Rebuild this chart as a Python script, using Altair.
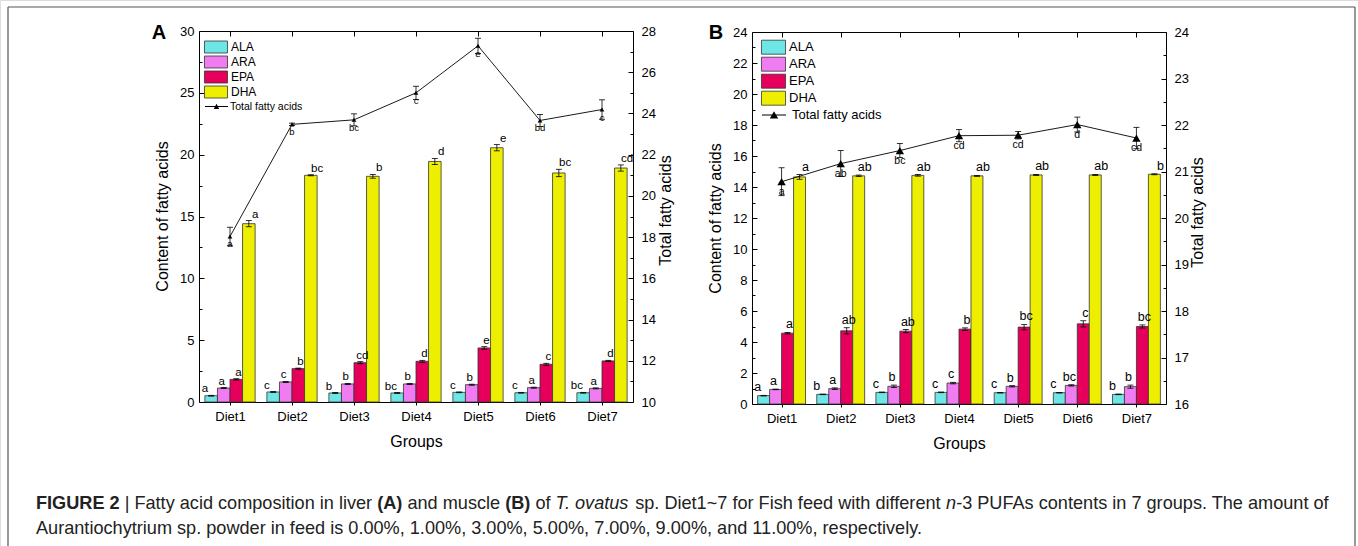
import altair as alt
import pandas as pd

FONT = "Liberation Sans"
W, H = 1358, 546

groups = ["Diet1", "Diet2", "Diet3", "Diet4", "Diet5", "Diet6", "Diet7"]
acids = ["ALA", "ARA", "EPA", "DHA"]
acid_colors = ["#6FE6E6", "#F07CF2", "#E6005C", "#EEEE00"]
series_name = ["Total fatty acids"]

# ---------------- Panel A (liver) ----------------
a_ala = [0.51, 0.81, 0.73, 0.73, 0.78, 0.75, 0.75]
a_ara = [1.13, 1.62, 1.46, 1.46, 1.40, 1.16, 1.10]
a_epa = [1.83, 2.70, 3.18, 3.29, 4.37, 3.05, 3.32]
a_dha = [14.42, 18.33, 18.25, 19.45, 20.56, 18.52, 18.92]
a_ala_err = [0.03, 0.03, 0.03, 0.03, 0.03, 0.03, 0.03]
a_ara_err = [0.04, 0.04, 0.04, 0.04, 0.04, 0.04, 0.04]
a_epa_err = [0.05, 0.04, 0.08, 0.08, 0.10, 0.08, 0.05]
a_dha_err = [0.25, 0.04, 0.15, 0.25, 0.25, 0.30, 0.25]
a_ala_sig = ["a", "c", "b", "bc", "c", "c", "bc"]
a_ara_sig = ["a", "c", "b", "b", "b", "a", "a"]
a_epa_sig = ["a", "b", "cd", "d", "e", "c", "d"]
a_dha_sig = ["a", "bc", "b", "d", "e", "bc", "cd"]
a_tot = [18.03, 23.47, 23.69, 25.00, 27.28, 23.66, 24.19]
a_tot_err = [0.45, 0.06, 0.29, 0.32, 0.37, 0.29, 0.47]
a_tot_sig = ["a", "b", "bc", "c", "e", "bd", "c"]
a_left_ticks = [0, 5, 10, 15, 20, 25, 30]
a_left_minor = [2.5, 7.5, 12.5, 17.5, 22.5, 27.5]
a_right_ticks = [10, 12, 14, 16, 18, 20, 22, 24, 26, 28]
a_right_minor = [11, 13, 15, 17, 19, 21, 23, 25, 27]

# ---------------- Panel B (muscle) ----------------
b_ala = [0.54, 0.62, 0.75, 0.75, 0.73, 0.73, 0.62]
b_ara = [0.94, 0.99, 1.14, 1.35, 1.14, 1.20, 1.12]
b_epa = [4.57, 4.72, 4.70, 4.83, 4.96, 5.17, 5.00]
b_dha = [14.65, 14.72, 14.75, 14.72, 14.78, 14.78, 14.82]
b_ala_err = [0.02, 0.02, 0.02, 0.02, 0.02, 0.02, 0.02]
b_ara_err = [0.02, 0.05, 0.08, 0.05, 0.04, 0.04, 0.10]
b_epa_err = [0.05, 0.20, 0.10, 0.08, 0.18, 0.20, 0.10]
b_dha_err = [0.15, 0.05, 0.05, 0.03, 0.03, 0.03, 0.03]
b_ala_sig = ["a", "b", "c", "c", "c", "c", "b"]
b_ara_sig = ["a", "a", "b", "c", "b", "bc", "b"]
b_epa_sig = ["a", "ab", "ab", "b", "bc", "c", "bc"]
b_dha_sig = ["a", "ab", "ab", "ab", "ab", "ab", "b"]
b_tot = [20.78, 21.17, 21.45, 21.77, 21.78, 22.01, 21.72]
b_tot_err = [0.30, 0.28, 0.15, 0.13, 0.08, 0.16, 0.23]
b_tot_sig = ["a", "ab", "bc", "cd", "cd", "d", "cd"]
b_left_ticks = [0, 2, 4, 6, 8, 10, 12, 14, 16, 18, 20, 22, 24]
b_left_minor = [1, 3, 5, 7, 9, 11, 13, 15, 17, 19, 21, 23]
b_right_ticks = [16, 17, 18, 19, 20, 21, 22, 23, 24]
b_right_minor = [16.5, 17.5, 18.5, 19.5, 20.5, 21.5, 22.5, 23.5]

caption_line1 = [
    ("FIGURE 2", "bold"),
    (" | ", "normal"),
    ("Fatty acid composition in liver ", "normal"),
    ("(A)", "bold"),
    (" and muscle ", "normal"),
    ("(B)", "bold"),
    (" of ", "normal"),
    ("T. ovatus", "italic"),
    (" sp. Diet1~7 for Fish feed with different ", "normal"),
    ("n", "italic"),
    ("-3 PUFAs contents in 7 groups. The amount of", "normal"),
]
caption_line2 = [
    ("Aurantiochytrium sp. powder in feed is 0.00%, 1.00%, 3.00%, 5.00%, 7.00%, 9.00%, and 11.00%, respectively.", "normal"),
]

# ---------- layout (pixels) ----------
PA = dict(xr=[199, 633], yr=[402, 31], yl=[0, 30], yR=[10, 28],
          vals=[a_ala, a_ara, a_epa, a_dha], errs=[a_ala_err, a_ara_err, a_epa_err, a_dha_err],
          sigs=[a_ala_sig, a_ara_sig, a_epa_sig, a_dha_sig],
          tot=a_tot, tot_err=a_tot_err, tot_sig=a_tot_sig,
          lt=a_left_ticks, lm=a_left_minor, rt=a_right_ticks, rm=a_right_minor,
          cap=6, sigfs=11.5, tfs=9.5, tdy=8, msize=22,
          ltitle=(162, 216), rtitle=(665, 210), btitle=(416, 441),
          lx=204, ly=40.5, box_path="M-1.92,-1H1.92V1H-1.92Z", box_size=144, box_so=5.5, box_lo=8.5,
          lfs=12, rowpad=-2.7, llx=204, lly=99.5,
          line_path="M-1.92,-0.07H1.92V0.07H-1.92Z M-0.45,0.42L0,-0.45L0.45,0.42Z", line_lo=6.5, lfs2=10.5)
PB = dict(xr=[752, 1166], yr=[404, 32], yl=[0, 24], yR=[16, 24],
          vals=[b_ala, b_ara, b_epa, b_dha], errs=[b_ala_err, b_ara_err, b_epa_err, b_dha_err],
          sigs=[b_ala_sig, b_ara_sig, b_epa_sig, b_dha_sig],
          tot=b_tot, tot_err=b_tot_err, tot_sig=b_tot_sig,
          lt=b_left_ticks, lm=b_left_minor, rt=b_right_ticks, rm=b_right_minor,
          cap=6, sigfs=12.5, tfs=10.5, tdy=10, msize=70,
          ltitle=(715, 218), rtitle=(1197, 212), btitle=(959, 443),
          lx=761, ly=39.7, box_path="M-1.72,-1H1.72V1H-1.72Z", box_size=196, box_so=5, box_lo=8,
          lfs=13, rowpad=-2.3, llx=761, lly=107,
          line_path="M-1.72,-0.06H1.72V0.06H-1.72Z M-0.6,0.5L0,-0.55L0.6,0.5Z", line_lo=10, lfs2=13)


def ax(**kw):
    base = dict(grid=False, labelFont=FONT, titleFont=FONT, labelColor="black", titleColor="black",
                domainColor="black", tickColor="black", domainWidth=1, tickWidth=1,
                titleFontWeight="normal")
    base.update(kw)
    return alt.Axis(**base)


def build_panel(P):
    xr, yr = P["xr"], P["yr"]
    rows = []
    for acid, vals, errs, sigs in zip(acids, P["vals"], P["errs"], P["sigs"]):
        for g, v, e, s in zip(groups, vals, errs, sigs):
            rows.append({"group": g, "acid": acid, "value": v, "lo": v - e, "hi": v + e, "sig": s})
    bdf = pd.DataFrame(rows)
    tdf = pd.DataFrame({"group": groups, "total": P["tot"],
                        "lo": [t - e for t, e in zip(P["tot"], P["tot_err"])],
                        "hi": [t + e for t, e in zip(P["tot"], P["tot_err"])],
                        "sig": P["tot_sig"], "series": series_name * len(groups)})

    def xband():
        return alt.X("group:N", sort=groups, axis=None,
                     scale=alt.Scale(domain=groups, range=xr, paddingInner=0.19, paddingOuter=0.095))

    def xoff():
        return alt.XOffset("acid:N", sort=acids,
                           scale=alt.Scale(domain=acids, paddingInner=0, paddingOuter=0))

    def yl(f):
        return alt.Y(f"{f}:Q", axis=None, scale=alt.Scale(domain=P["yl"], range=yr, nice=False, zero=True))

    def yR(f):
        return alt.Y(f"{f}:Q", axis=None, scale=alt.Scale(domain=P["yR"], range=yr, nice=False, zero=False))

    layers = []
    bars = alt.Chart(bdf).mark_bar(stroke="#333333", strokeWidth=0.8).encode(
        x=xband(), xOffset=xoff(), y=yl("value"),
        fill=alt.Fill("acid:N", sort=acids, scale=alt.Scale(domain=acids, range=acid_colors),
                      legend=alt.Legend(orient="none", legendX=P["lx"], legendY=P["ly"], title=None,
                                        symbolType=P["box_path"], symbolSize=P["box_size"],
                                        symbolStrokeColor="#333333", symbolStrokeWidth=0.8,
                                        symbolOffset=P["box_so"], labelOffset=P["box_lo"],
                                        labelFontSize=P["lfs"], labelFont=FONT, labelColor="black",
                                        rowPadding=P["rowpad"], padding=0)))
    layers.append(bars)
    layers.append(alt.Chart(bdf).mark_rule(color="black", strokeWidth=0.8).encode(
        x=xband(), xOffset=xoff(), y=yl("lo"), y2="hi:Q"))
    for f in ["lo", "hi"]:
        layers.append(alt.Chart(bdf).mark_tick(color="black", thickness=0.8, size=P["cap"], opacity=1).encode(
            x=xband(), xOffset=xoff(), y=yl(f)))
    layers.append(alt.Chart(bdf).mark_text(baseline="bottom", dy=-1, fontSize=P["sigfs"], font=FONT,
                                           color="black").encode(
        x=xband(), xOffset=xoff(), y=yl("hi"), text="sig:N"))

    # total fatty acids line
    layers.append(alt.Chart(tdf).mark_line(color="black", strokeWidth=0.9).encode(x=xband(), y=yR("total")))
    layers.append(alt.Chart(tdf).mark_rule(color="black", strokeWidth=0.8).encode(
        x=xband(), y=yR("lo"), y2="hi:Q"))
    for f in ["lo", "hi"]:
        layers.append(alt.Chart(tdf).mark_tick(color="black", thickness=0.8, size=P["cap"], opacity=1).encode(
            x=xband(), y=yR(f)))
    layers.append(alt.Chart(tdf).mark_point(shape="triangle-up", filled=True, opacity=1,
                                            size=P["msize"]).encode(
        x=xband(), y=yR("total"),
        color=alt.Color("series:N", scale=alt.Scale(domain=series_name, range=["black"]),
                        legend=alt.Legend(orient="none", legendX=P["llx"], legendY=P["lly"], title=None,
                                          symbolType=P["line_path"], symbolSize=P["box_size"],
                                          symbolOffset=P["box_so"], labelOffset=P["line_lo"],
                                          labelFontSize=P["lfs2"], labelFont=FONT, labelColor="black",
                                          padding=0))))
    layers.append(alt.Chart(tdf).mark_text(baseline="middle", dy=P["tdy"], fontSize=P["tfs"], font=FONT,
                                           color="black").encode(
        x=xband(), y=yR("total"), text="sig:N"))

    # ---- axes (invisible carriers) ----
    x0, x1 = xr
    y0, y1 = yr  # bottom, top

    def carrier(xaxis, yaxis, ydom):
        mid = (ydom[0] + ydom[1]) / 2
        return alt.Chart(tdf).transform_calculate(ax=str(mid)).mark_point(opacity=0).encode(
            x=alt.X("group:N", sort=groups, axis=xaxis,
                    scale=alt.Scale(domain=groups, range=xr, paddingInner=0, paddingOuter=0)),
            y=alt.Y("ax:Q", axis=yaxis, scale=alt.Scale(domain=ydom, range=yr, nice=False, zero=False)))

    fs_lab = 13
    layers.append(carrier(
        ax(orient="bottom", offset=y0 - H, ticks=False, domain=True, labelFontSize=fs_lab, labelPadding=8,
           labelAngle=0, title="Groups", titleFontSize=16, titleX=P["btitle"][0], titleY=P["btitle"][1] - y0,
           titleBaseline="middle", titleAlign="center"),
        ax(orient="left", offset=-x0, values=P["lt"], ticks=False, domain=True, labelFontSize=fs_lab,
           labelPadding=5, title="Content of fatty acids", titleFontSize=16, titleAngle=270,
           titleX=P["ltitle"][0] - x0, titleY=P["ltitle"][1], titleBaseline="middle", titleAlign="center"),
        P["yl"]))
    layers.append(carrier(
        ax(orient="bottom", offset=y1 - H, labels=False, ticks=True, tickSize=5, domain=True,
           bandPosition=0.5, title=None),
        ax(orient="right", offset=x0 - W, values=P["lt"], labels=False, ticks=True, tickSize=5,
           domain=False, title=None),
        P["yl"]))
    layers.append(carrier(
        ax(orient="bottom", offset=y1 - H, labels=False, ticks=True, tickSize=3, domain=False,
           bandPosition=0, title=None),
        ax(orient="right", offset=x0 - W, values=P["lm"], labels=False, ticks=True, tickSize=3,
           domain=False, title=None),
        P["yl"]))
    layers.append(carrier(
        ax(orient="bottom", offset=y0 - H, labels=False, ticks=True, tickSize=3, domain=False,
           bandPosition=0, title=None),
        ax(orient="right", offset=x1 - W, values=P["rt"], ticks=False, domain=True, labelFontSize=fs_lab,
           labelPadding=8, title="Total fatty acids", titleFontSize=16, titleAngle=270,
           titleX=P["rtitle"][0] - x1, titleY=P["rtitle"][1], titleBaseline="middle", titleAlign="center"),
        P["yR"]))
    layers.append(carrier(
        None,
        ax(orient="left", offset=-x1, values=P["rt"], labels=False, ticks=True, tickSize=5,
           domain=False, title=None),
        P["yR"]))
    layers.append(carrier(
        None,
        ax(orient="left", offset=-x1, values=P["rm"], labels=False, ticks=True, tickSize=3,
           domain=False, title=None),
        P["yR"]))
    return layers


# ---------- caption helpers (text metrics of Arial/Liberation Sans) ----------
REG = {' ': 278, '%': 889, '(': 333, ')': 333, ',': 278, '-': 333, '.': 278, '|': 260, '~': 584,
       'A': 667, 'B': 667, 'C': 722, 'D': 722, 'E': 667, 'F': 611, 'G': 778, 'H': 722, 'I': 278,
       'J': 500, 'K': 667, 'L': 556, 'M': 833, 'N': 722, 'O': 778, 'P': 667, 'Q': 778, 'R': 722,
       'S': 667, 'T': 611, 'U': 722, 'V': 667, 'W': 944, 'X': 667, 'Y': 667, 'Z': 611,
       'a': 556, 'b': 556, 'c': 500, 'd': 556, 'e': 556, 'f': 278, 'g': 556, 'h': 556, 'i': 222,
       'j': 222, 'k': 500, 'l': 222, 'm': 833, 'n': 556, 'o': 556, 'p': 556, 'q': 556, 'r': 333,
       's': 500, 't': 278, 'u': 556, 'v': 500, 'w': 722, 'x': 500, 'y': 500, 'z': 500}
BOLD = {' ': 278, '(': 333, ')': 333, 'A': 722, 'B': 722, 'E': 667, 'F': 611, 'G': 778, 'I': 278,
        'R': 722, 'U': 722, '|': 280}


def text_em(s, style):
    table = BOLD if style == "bold" else REG
    return sum(table.get(c, REG.get(c, 556)) for c in s) / 1000.0


CAP_X0, CAP_X1 = 36, 1330
CAP_Y = [504, 529]
em1 = sum(text_em(s, st) for s, st in caption_line1)
CAP_FS = (CAP_X1 - CAP_X0) / em1

cap_rows = []
for line, y in [(caption_line1, CAP_Y[0]), (caption_line2, CAP_Y[1])]:
    x = CAP_X0
    for s, st in line:
        lead = len(s) - len(s.lstrip(" "))
        x_start = x + text_em(" " * lead, st) * CAP_FS
        cap_rows.append({"t": s.strip(" "), "style": st, "x": x_start, "y": y})
        x += text_em(s, st) * CAP_FS
cap_df = pd.DataFrame(cap_rows)

decor = []
for st, kw in [("normal", {}), ("bold", {"fontWeight": "bold"}), ("italic", {"fontStyle": "italic"})]:
    decor.append(alt.Chart(cap_df).transform_filter(alt.datum.style == st).mark_text(
        align="left", baseline="middle", fontSize=CAP_FS, font=FONT, color="#222222", **kw).encode(
        x=alt.X("x:Q", scale=None, axis=None), y=alt.Y("y:Q", scale=None, axis=None), text="t:N"))

one = pd.DataFrame({"k": [0]})
decor.append(alt.Chart(one).mark_rule(color="#555555", strokeWidth=1.2).encode(
    x=alt.value(8), x2=alt.value(1355), y=alt.value(7)))
decor.append(alt.Chart(one).mark_rule(color="#555555", strokeWidth=1.2).encode(
    x=alt.value(8), y=alt.value(7), y2=alt.value(H)))
decor.append(alt.Chart(one).mark_rule(color="#555555", strokeWidth=1.2).encode(
    x=alt.value(1355), y=alt.value(7), y2=alt.value(H)))
for letter, lx in [("A", 159), ("B", 716)]:
    decor.append(alt.Chart(one).mark_text(fontSize=20, fontWeight="bold", font=FONT, color="black",
                                          baseline="middle").encode(
        x=alt.value(lx), y=alt.value(33), text=alt.value(letter)))

all_layers = build_panel(PA) + build_panel(PB) + decor

chart = alt.layer(*all_layers).resolve_scale(
    x="independent", y="independent", xOffset="independent", fill="independent", color="independent"
).resolve_axis(x="independent", y="independent").resolve_legend(
    fill="independent", color="independent"
).properties(
    width=W, height=H, autosize=alt.AutoSizeParams(type="none"), padding=0
).configure_view(strokeWidth=0).configure(font=FONT)

chart.save("out.html", embed_options={"renderer": "svg", "actions": False})
